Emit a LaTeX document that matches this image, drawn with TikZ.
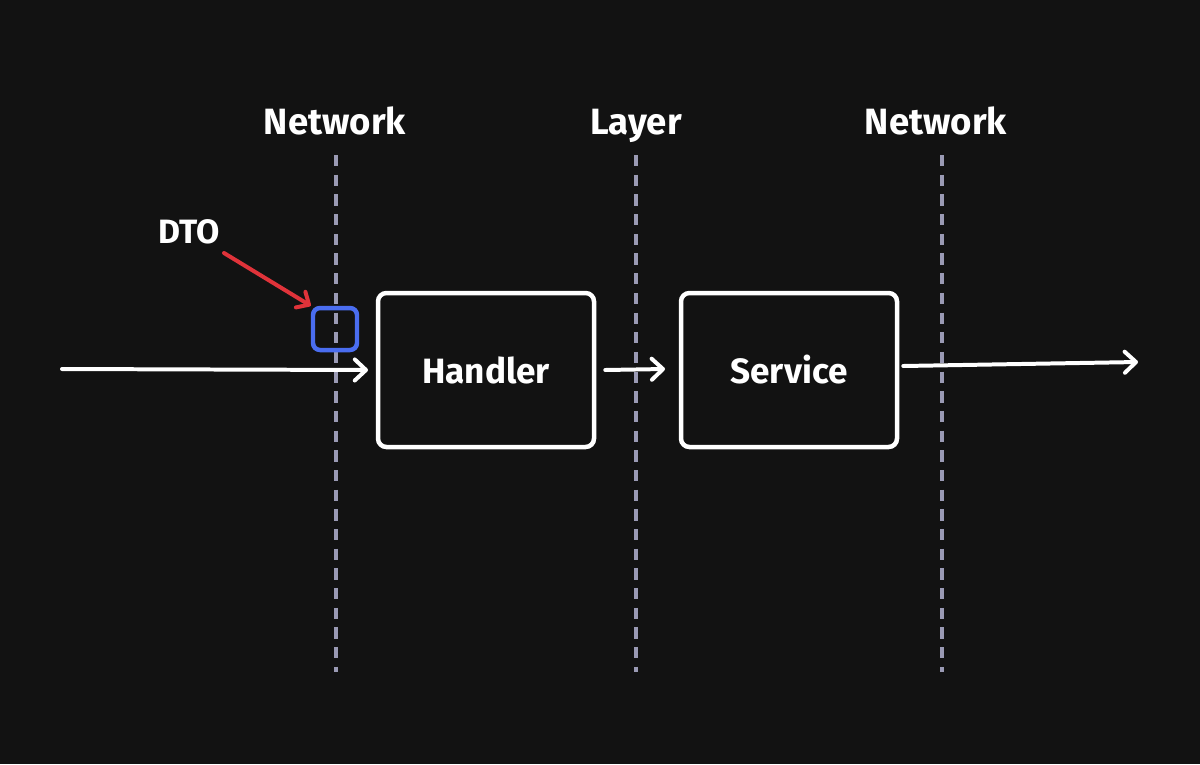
\documentclass[tikz,border=0pt]{standalone}
\usepackage{fontspec}
\setmainfont{Fira Sans}
\usepackage{xcolor}
\usetikzlibrary{arrows.meta,positioning}

\definecolor{bgdark}{HTML}{121212}
\definecolor{sepgray}{HTML}{9A9AB4}
\definecolor{dtoblue}{HTML}{4A6DF0}
\definecolor{pointred}{HTML}{E0333A}

\tikzset{
  compbox/.style={draw=white, line width=4.5pt*0.709, rounded corners=6pt,
                  minimum width=216*0.025cm, minimum height=154*0.025cm,
                  text=white, font=\fontsize{25}{30}\selectfont\bfseries},
  toplabel/.style={text=white, anchor=base, font=\fontsize{26}{30}\selectfont\bfseries},
  flow/.style={draw=white, line width=4pt*0.709, line cap=round,
               -{Straight Barb[length=8pt, width=15pt, line width=4pt*0.709, round]}},
  sepline/.style={draw=sepgray, line width=2.4pt, dash pattern=on 8pt off 6pt}
}

\begin{document}
\begin{tikzpicture}[x=0.025cm, y=-0.025cm]
\fill[bgdark] (0,0) rectangle (1200,764);
\useasboundingbox (0,0) rectangle (1200,764);

% layer boundaries
\foreach \x in {336,636,942} {
  \draw[sepline] (\x,155) -- (\x,672);
}
\node[toplabel] (netleft) at (335,134) {Network};
\node[toplabel] (layer) at (636,134) {Layer};
\node[toplabel] (netright) at (936,134) {Network};

% components
\node[compbox] (handler) at (486,370) {Handler};
\node[compbox] (service) at (789,370) {Service};

\coordinate (in) at (62,369);
\coordinate (out) at (1138,362);
\draw[flow] (in) -- (368,370);
\draw[flow] (handler.east) ++(9,0) coordinate (h2s) -- (665,369);
\draw[flow] (service.east) ++(4,-4) coordinate (s2o) -- (out);

% data transfer object
\node[draw=dtoblue, line width=4.5pt*0.709, rounded corners=5pt,
      minimum width=44*0.025cm, minimum height=42*0.025cm] (dto) at (335,329) {};
\node[text=white, font=\fontsize{24}{28}\selectfont\bfseries] (dtolabel) at (189,232) {DTO};
\coordinate (ptr) at (224,253);
\draw[draw=pointred, line width=4pt*0.709, line cap=round,
      -{Straight Barb[length=7pt, width=13pt, line width=4pt*0.709, round]}]
  (ptr) -- (dto.north west);
\end{tikzpicture}
\end{document}
